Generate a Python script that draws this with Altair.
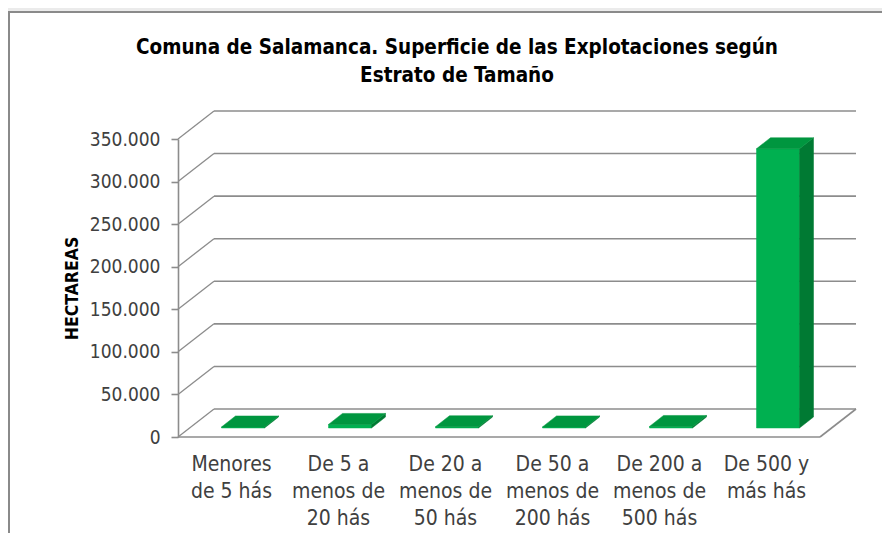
import altair as alt
import pandas as pd

# ---------------- data ----------------
categories = [
    "Menores\nde 5 hás",
    "De 5 a\nmenos de\n20 hás",
    "De 20 a\nmenos de\n50 hás",
    "De 50 a\nmenos de\n200 hás",
    "De 200 a\nmenos de\n500 hás",
    "De 500 y\nmás hás",
]
hectareas = [1200, 4200, 1500, 1300, 1800, 328000]
y_ticks = [0, 50000, 100000, 150000, 200000, 250000, 300000, 350000]

title_lines = ["Comuna de Salamanca. Superficie de las Explotaciones según", "Estrato de Tamaño"]
y_title = "HECTAREAS"

# ---------------- geometry / style ----------------
W, H = 642, 298
PAD_L, PAD_T, PAD_R, PAD_B = 170, 131, 62, 96
YMAX = 350000
NCAT = len(categories)
PX_X = NCAT / W          # data units per pixel (x)
PX_Y = YMAX / H          # data units per pixel (y)
DX, DY = 36, 28          # floor depth (px)
BAR_L, BAR_R = -10, 33   # front face edges relative to category centre (px)
BASE_UP = 9              # bar base raised above front floor edge (px)
BDX, BDY = 14, 11        # bar depth (px)

FONT = "Liberation Sans Narrow, DejaVu Sans Condensed, Open Sans, sans-serif"
GRID = "#8c8c8c"
TXT = "#404040"
C_FRONT, C_TOP, C_SIDE = "#00b050", "#00963f", "#007a33"

XS = alt.Scale(domain=[-0.5, NCAT - 0.5], nice=False, zero=False)
YS = alt.Scale(domain=[0, YMAX], nice=False, zero=False)

# ---------------- derived tables ----------------
bars = pd.DataFrame({"i": range(NCAT), "label": categories, "v": hectareas})
bars["base"] = BASE_UP * PX_Y
bars["top"] = bars["base"] + bars["v"]
bars["xl"] = bars["i"] + BAR_L * PX_X
bars["xr"] = bars["i"] + BAR_R * PX_X

side_rows, top_rows = [], []
for r in bars.to_dict("records"):
    side_rows.append({"k": r["i"], "x": r["xr"], "lo": r["base"], "hi": r["top"]})
    side_rows.append({"k": r["i"], "x": r["xr"] + BDX * PX_X, "lo": r["base"] + BDY * PX_Y, "hi": r["top"] + BDY * PX_Y})
    top_rows.append({"k": r["i"], "y": r["top"], "xl": r["xl"], "xr": r["xr"]})
    top_rows.append({"k": r["i"], "y": r["top"] + BDY * PX_Y, "xl": r["xl"] + BDX * PX_X, "xr": r["xr"] + BDX * PX_X})
side = pd.DataFrame(side_rows)
topf = pd.DataFrame(top_rows)

grid = pd.DataFrame({"v": y_ticks})
grid["vb"] = grid["v"] + DY * PX_Y
grid["x0"] = -0.5
grid["x1"] = -0.5 + DX * PX_X
grid["x2"] = NCAT - 0.5 + DX * PX_X

floor = pd.DataFrame({
    "xa": [-0.5, NCAT - 0.5],
    "xb": [NCAT - 0.5, NCAT - 0.5 + DX * PX_X],
    "ya": [0, 0],
    "yb": [0, DY * PX_Y],
})

# ---------------- layers ----------------
frame = alt.Chart(pd.DataFrame({"a": [0]})).mark_rect(
    fill="white", stroke="#8a8a8a", strokeWidth=2
).encode(
    x=alt.value(-PAD_L + 1), x2=alt.value(W + PAD_R + 40),
    y=alt.value(-PAD_T + 4), y2=alt.value(H + PAD_B + 40),
)

yaxis = alt.Chart(grid).mark_point(opacity=0).encode(
    y=alt.Y("v:Q", scale=YS, title=y_title, axis=alt.Axis(
        values=y_ticks, grid=False, domain=True, domainColor=GRID, domainWidth=1.6,
        ticks=True, tickColor=GRID, tickSize=7, tickWidth=1.6,
        labelFont=FONT, labelFontSize=19, labelFontWeight="normal", labelColor=TXT, labelPadding=11,
        labelExpr="replace(format(datum.value, ','), ',', '.')",
        titleFont=FONT, titleFontSize=17.5, titleFontWeight="bold", titleColor="black",
        titleAngle=270, titleX=-106, titleY=H / 2, titleAlign="center", titleBaseline="middle",
        zindex=2,
    )),
)

back_grid = alt.Chart(grid).mark_rule(color=GRID, strokeWidth=1.6).encode(
    x=alt.X("x1:Q", scale=XS, axis=None), x2="x2:Q",
    y=alt.Y("vb:Q", scale=YS),
)
diag = alt.Chart(grid).mark_rule(color=GRID, strokeWidth=1.3).encode(
    x=alt.X("x0:Q", scale=XS, axis=None), x2="x1:Q",
    y=alt.Y("v:Q", scale=YS), y2="vb:Q",
)
floor_l = alt.Chart(floor).mark_rule(color=GRID, strokeWidth=1.6).encode(
    x=alt.X("xa:Q", scale=XS, axis=None), x2="xb:Q",
    y=alt.Y("ya:Q", scale=YS), y2="yb:Q",
)

front = alt.Chart(bars).mark_rect(color=C_FRONT, stroke=C_FRONT, strokeWidth=0.5).encode(
    x=alt.X("xl:Q", scale=XS, axis=None), x2="xr:Q",
    y=alt.Y("base:Q", scale=YS), y2="top:Q",
)
side_l = alt.Chart(side).mark_area(color=C_SIDE, stroke=C_SIDE, strokeWidth=0.5).encode(
    x=alt.X("x:Q", scale=XS, axis=None),
    y=alt.Y("hi:Q", scale=YS), y2="lo:Q",
    detail="k:N",
)
top_l = alt.Chart(topf).mark_area(color=C_TOP, stroke=C_TOP, strokeWidth=0.5, orient="horizontal").encode(
    y=alt.Y("y:Q", scale=YS),
    x=alt.X("xl:Q", scale=XS, axis=None), x2="xr:Q",
    detail="k:N",
)

xlabels = alt.Chart(bars).mark_text(
    font=FONT, fontSize=21, color=TXT, lineBreak="\n", lineHeight=27,
    align="center", baseline="top",
).encode(
    x=alt.X("i:Q", scale=XS, axis=None),
    y=alt.value(H + 17),
    text="label:N",
)

chart = alt.layer(
    frame, yaxis, back_grid, diag, floor_l, front, side_l, top_l, xlabels
).properties(
    width=W, height=H,
    autosize=alt.AutoSizeParams(type="none"),
    padding={"left": PAD_L, "top": PAD_T, "right": PAD_R, "bottom": PAD_B},
    background="#ebebeb",
    title=alt.TitleParams(
        text=title_lines, font=FONT, fontSize=20.5, fontWeight="bold", color="black",
        lineHeight=28, anchor="middle", dx=-42, offset=0, dy=75, zindex=2,
    ),
).configure_view(stroke=None)

chart.save("out.html", embed_options={"renderer": "svg", "actions": False})
